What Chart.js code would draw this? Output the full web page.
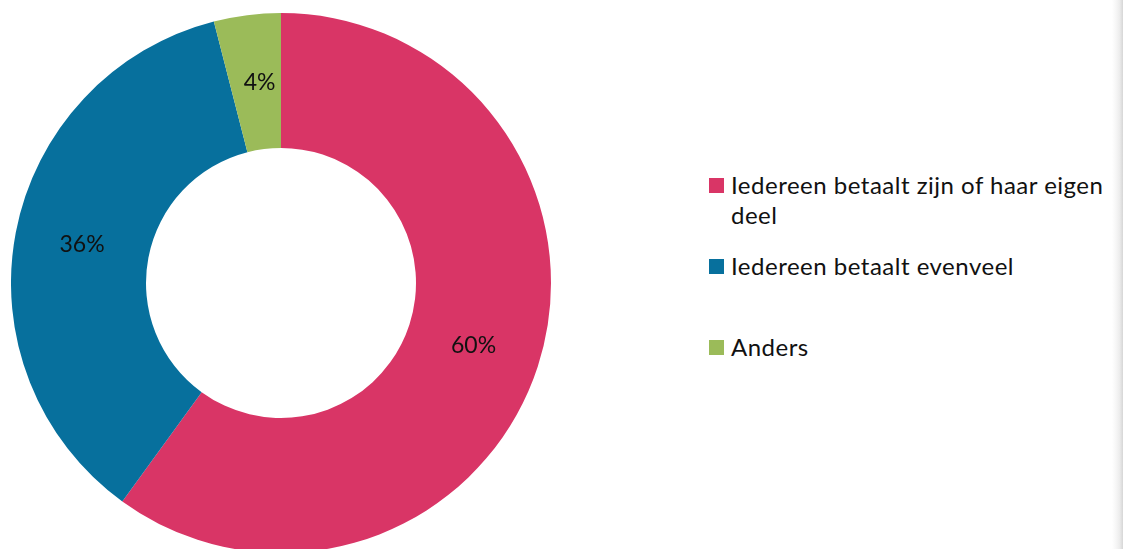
<!DOCTYPE html>
<html>
<head>
<meta charset="utf-8">
<script src="https://cdn.jsdelivr.net/npm/chart.js@4/dist/chart.umd.min.js"></script>
<style>
  html, body { margin: 0; padding: 0; background: #fff; overflow: hidden; }
  body { width: 1123px; height: 549px; position: relative; }
  .pie-wrap { position: absolute; left: 11px; top: 13px; width: 540px; height: 540px; }
  .legend { position: absolute; left: 709px; top: 170px; width: 405px; margin: 0; padding: 0; list-style: none;
            font-family: Lato, sans-serif; font-size: 24px; letter-spacing: 0.5px; color: #111; }
  .legend li { position: relative; height: 81px; padding-left: 22px; line-height: 30px; }
  .legend li span.box { position: absolute; left: 0; top: 8px; width: 15px; height: 15px; }
  .edge { position: absolute; right: 0; top: 0; width: 11px; height: 549px;
          background: linear-gradient(to right, #fff 0%, #f4f4f4 45%, #ececec 70%, #d6d6d6 100%); }
</style>
</head>
<body>
<div class="pie-wrap"><canvas id="pie"></canvas></div>
<ul class="legend" id="legend"></ul>
<div class="edge"></div>
<script>
const labels = ["Iedereen betaalt zijn of haar eigen deel", "Iedereen betaalt evenveel", "Anders"];
const values = [60, 36, 4];
const colors = ["#d93566", "#07709d", "#9bbb59"];

// percentage labels in the middle of each ring segment
const pctLabels = {
  id: "pctLabels",
  afterDatasetsDraw(chart) {
    const ctx = chart.ctx;
    const meta = chart.getDatasetMeta(0);
    ctx.save();
    ctx.font = "400 23px Lato";
    ctx.fillStyle = "#111";
    ctx.textAlign = "center";
    ctx.textBaseline = "middle";
    meta.data.forEach((arc, i) => {
      const p = arc.tooltipPosition();
      ctx.fillText(values[i] + "%", p.x + (i === 2 ? 4 : 0), p.y);
    });
    ctx.restore();
  },
};

const chart = new Chart(document.getElementById("pie"), {
  type: "doughnut",
  data: {
    labels: labels,
    datasets: [
      {
        data: values,
        backgroundColor: colors,
        borderWidth: 0,
      },
    ],
  },
  options: {
    responsive: true,
    maintainAspectRatio: false,
    animation: false,
    cutout: "50%",
    layout: { padding: 0 },
    plugins: {
      legend: { display: false },
      tooltip: { enabled: false },
    },
  },
  plugins: [pctLabels],
});

const ul = document.getElementById("legend");
chart.data.labels.forEach((l, i) => {
  let li = document.createElement("li");
  li.innerHTML = `<span class="box" style="background:${colors[i]}"></span>${l}`;
  ul.appendChild(li);
});
</script>
</body>
</html>
